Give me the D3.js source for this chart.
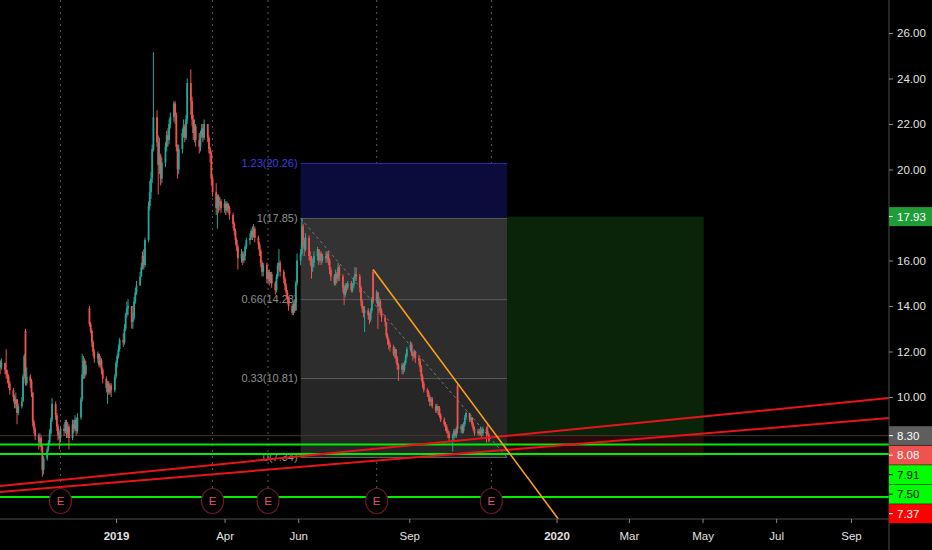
<!DOCTYPE html>
<html><head><meta charset="utf-8">
<script src="https://d3js.org/d3.v7.min.js"></script>
<style>
  body { margin: 0; background: #000; }
  svg text { font-family: "Liberation Sans", Arial, sans-serif; }
</style>
</head>
<body>
<div id="chart"></div>
<script>

// ---- data ----
var startDate = "2018-09-27";   // first candle, one candle per weekday after it

var closes = [
  11.3, 11.5, 11.2, 11.0, 10.9, 10.6, 10.3, 10.0, 9.7, 9.9,
  9.3, 9.6, 9.8, 10.9, 11.8, 10.6, 10.9, 10.7, 10.2, 8.9,
  8.6, 8.3, 8.0, 8.2, 7.8, 6.8, 7.3, 7.7, 8.0, 8.4,
  9.0, 9.7, 9.2, 8.7, 8.3, 8.2, 8.6, 8.5, 8.9, 8.4,
  8.7, 8.2, 8.8, 8.6, 9.0, 8.5, 9.1, 9.9, 11.0, 11.6,
  11.0, 11.4, 13.2, 12.9, 12.4, 12.0, 11.7, 11.9, 11.4, 11.6,
  11.2, 10.8, 10.4, 10.6, 10.2, 10.5, 10.3, 10.9, 11.5, 11.8,
  12.1, 12.5, 12.4, 13.0, 13.6, 13.9, 14.0, 13.3, 13.5, 14.2,
  14.6, 14.9, 15.3, 15.7, 16.2, 15.8, 16.9, 18.4, 19.0, 19.6,
  20.9, 22.3, 21.2, 20.2, 20.6, 19.6, 20.3, 21.0, 21.5, 21.3,
  22.0, 22.3, 22.9, 22.4, 21.0, 20.0, 20.9, 21.6, 21.9, 21.4,
  22.2, 23.8, 23.0, 22.2, 21.6, 21.9, 21.3, 21.0, 21.5, 21.8,
  21.4, 22.0, 21.4, 20.9, 20.7, 19.6, 19.0, 18.3, 18.8, 18.4,
  18.6, 18.3, 18.5, 18.2, 18.5, 18.3, 18.0, 17.6, 17.3, 16.9,
  16.6, 16.1, 16.3, 16.0, 16.2, 16.6, 16.9, 17.0, 17.3, 17.1,
  17.4, 17.0, 16.7, 16.4, 15.9, 15.5, 15.8, 15.2, 15.5, 15.1,
  15.4, 15.0, 14.7, 15.3, 15.8, 15.9, 15.5, 15.2, 14.9, 14.6,
  14.3, 14.0, 13.7, 14.1, 13.8, 15.0, 16.0, 16.3, 17.5, 16.9,
  16.5, 17.0, 16.2, 16.0, 15.7, 15.9, 16.2, 16.5, 16.0, 16.3,
  16.0, 16.2, 16.1, 16.3, 16.0, 15.6, 15.3, 15.0, 15.4, 15.2,
  15.7, 15.3, 14.8, 14.5, 14.9, 14.8, 15.0, 14.7, 14.9, 15.2,
  15.4, 15.3, 14.8, 14.2, 13.9, 13.7, 13.8, 13.6, 13.4, 13.8,
  14.3, 14.2, 14.6, 14.0, 14.2, 13.8, 13.5, 13.3, 12.7, 12.5,
  12.3, 12.2, 11.9, 12.1, 11.7, 11.4, 11.2, 11.4, 11.2, 11.5,
  11.8, 12.1, 12.3, 11.9, 11.8, 12.0, 11.7, 11.6, 11.3, 10.9,
  10.6, 10.3, 10.2, 10.0, 9.8, 9.9, 9.6, 9.4, 9.6, 9.5,
  9.2, 9.0, 8.8, 8.7, 8.5, 8.4, 8.2, 8.3, 8.5, 8.3,
  8.6, 8.6, 8.7, 8.5, 8.8, 9.1, 9.3, 9.0, 9.1, 8.8,
  8.6, 8.4, 8.5, 8.4, 8.5, 8.4, 8.6, 8.5, 8.35, 8.08
];

var highs = [
  11.6, 11.7, 11.5, 12.1, 11.2, 11.0, 10.7, 10.4, 10.1, 10.2,
  9.9, 9.7, 10.0, 11.0, 11.9, 13.0, 11.3, 11.0, 10.8, 10.2,
  9.0, 8.7, 8.4, 8.4, 8.3, 7.9, 7.4, 7.8, 8.1, 8.6,
  9.1, 9.95, 9.8, 9.3, 8.8, 8.5, 8.7, 8.8, 9.0, 9.0,
  8.9, 8.8, 9.0, 9.0, 9.2, 9.1, 9.3, 10.0, 11.9, 11.8,
  11.7, 11.6, 14.0, 13.3, 13.0, 12.5, 12.1, 12.0, 11.9, 11.8,
  11.7, 11.3, 10.9, 10.7, 10.7, 10.6, 10.6, 11.0, 11.6, 11.9,
  12.3, 12.6, 12.8, 13.2, 13.7, 14.2, 14.3, 14.0, 13.7, 14.4,
  14.8, 15.1, 15.5, 15.9, 16.4, 16.5, 17.0, 18.6, 19.5, 19.9,
  21.1, 25.15, 22.6, 21.5, 21.4, 20.7, 20.5, 21.2, 21.7, 21.8,
  22.2, 22.5, 23.0, 23.0, 22.5, 21.1, 21.1, 21.8, 22.2, 22.0,
  22.4, 24.0, 24.4, 23.2, 22.4, 22.2, 22.0, 21.6, 21.7, 22.0,
  22.0, 22.2, 22.0, 21.5, 21.0, 20.8, 19.7, 19.4, 18.9, 18.9,
  18.8, 18.7, 18.7, 18.6, 18.6, 18.5, 18.4, 18.1, 17.7, 17.4,
  17.0, 16.7, 16.5, 16.4, 16.4, 16.7, 17.0, 17.2, 17.4, 17.5,
  17.6, 17.5, 17.1, 16.8, 16.5, 16.0, 15.9, 15.9, 15.6, 15.6,
  15.5, 15.5, 15.1, 15.4, 15.9, 16.5, 16.0, 15.6, 15.3, 15.0,
  14.7, 14.4, 14.1, 14.2, 14.3, 15.1, 16.3, 16.5, 17.85, 17.6,
  17.0, 17.2, 17.1, 16.4, 16.2, 16.1, 16.4, 16.6, 16.5, 16.4,
  16.4, 16.3, 16.4, 16.4, 16.4, 16.1, 15.7, 15.4, 15.6, 15.5,
  15.9, 15.8, 15.4, 14.9, 15.0, 15.0, 15.1, 15.1, 15.0, 15.3,
  15.7, 15.7, 15.4, 14.9, 14.3, 14.0, 14.0, 13.9, 13.7, 13.9,
  14.4, 15.6, 14.7, 14.6, 14.4, 14.3, 13.9, 13.6, 13.3, 12.8,
  12.6, 12.4, 12.3, 12.2, 12.1, 11.8, 11.5, 11.5, 11.5, 11.6,
  11.9, 12.2, 12.45, 12.4, 12.0, 12.1, 12.0, 11.8, 11.7, 11.4,
  11.0, 10.7, 10.4, 10.3, 10.1, 10.0, 10.0, 9.7, 9.7, 9.6,
  9.6, 9.3, 9.1, 8.9, 8.8, 8.6, 8.5, 8.4, 8.6, 8.6,
  8.7, 10.6, 8.8, 8.8, 8.9, 9.2, 9.35, 9.3, 9.2, 9.1,
  8.9, 8.7, 8.6, 8.6, 8.7, 8.6, 8.7, 8.7, 8.8, 8.4
];

var lows = [
  11.0, 11.2, 11.0, 10.8, 10.6, 10.4, 10.1, 9.8, 9.5, 9.5,
  8.8, 9.2, 9.5, 9.8, 10.8, 10.5, 10.5, 10.4, 10.0, 8.7,
  8.4, 8.1, 7.7, 7.8, 7.6, 6.5, 6.6, 7.2, 7.6, 7.9,
  8.3, 8.9, 9.0, 8.5, 8.1, 7.7, 8.0, 8.3, 8.4, 8.2,
  8.2, 7.7, 8.1, 8.4, 8.5, 8.3, 8.4, 9.0, 9.8, 10.8,
  10.8, 10.9, 13.1, 12.8, 12.2, 11.8, 11.5, 11.5, 11.3, 11.3,
  11.0, 10.6, 10.2, 9.7, 10.1, 10.1, 10.0, 10.2, 10.8, 11.3,
  11.7, 12.0, 12.2, 12.3, 12.9, 13.5, 13.6, 13.0, 13.0, 13.4,
  14.1, 14.5, 14.9, 15.3, 15.6, 15.6, 15.7, 16.8, 18.2, 18.7,
  19.4, 20.8, 21.0, 18.9, 19.8, 19.3, 19.4, 20.1, 20.8, 21.0,
  21.1, 21.8, 22.1, 22.0, 20.8, 19.6, 19.8, 20.7, 21.4, 21.2,
  21.3, 22.0, 22.4, 21.9, 21.3, 21.2, 21.0, 20.7, 20.8, 21.4,
  21.2, 21.3, 21.2, 20.7, 20.3, 19.3, 18.8, 18.0, 17.4, 18.1,
  18.2, 18.1, 18.1, 18.0, 18.1, 18.1, 17.8, 17.4, 17.1, 16.7,
  16.4, 15.6, 15.9, 15.8, 15.9, 16.0, 16.5, 16.7, 16.9, 16.9,
  17.0, 16.8, 16.5, 16.2, 15.7, 15.3, 15.3, 15.0, 15.0, 14.9,
  15.0, 14.8, 14.5, 14.6, 15.2, 15.6, 15.3, 15.0, 14.7, 14.4,
  14.1, 13.8, 13.6, 13.6, 13.7, 13.8, 14.9, 15.8, 16.2, 16.6,
  16.2, 16.4, 16.0, 15.8, 15.2, 15.5, 15.7, 16.0, 15.8, 15.9,
  15.8, 15.9, 15.9, 15.9, 15.8, 15.4, 15.1, 14.9, 14.9, 15.0,
  15.1, 15.1, 14.6, 14.05, 14.4, 14.6, 14.7, 14.6, 14.6, 14.8,
  15.1, 15.1, 14.6, 14.0, 13.7, 13.5, 12.85, 13.4, 13.2, 13.3,
  13.7, 14.1, 14.1, 13.0, 13.7, 13.6, 13.3, 13.1, 12.6, 12.3,
  12.1, 12.0, 11.8, 11.7, 11.5, 11.2, 10.7, 11.0, 11.0, 11.1,
  11.4, 11.7, 12.0, 11.8, 11.6, 11.7, 11.5, 11.4, 11.1, 10.7,
  10.4, 10.2, 10.0, 9.8, 9.6, 9.6, 9.5, 9.3, 9.3, 9.2,
  9.1, 8.9, 8.7, 8.5, 8.4, 8.2, 8.0, 7.6, 8.1, 8.2,
  8.2, 8.4, 8.4, 8.4, 8.4, 8.7, 9.0, 8.9, 8.9, 8.7,
  8.5, 8.3, 8.3, 8.3, 8.3, 8.2, 8.3, 8.0, 8.3, 8.0
];

// candles whose open is not the previous close: [index, open]
var gapOpens = [[0, 11.6], [15, 12.9], [52, 13.9], [221, 15.5], [271, 10.5]];

// 18.00 and 8.00 sit under the price labels, so they are not printed
var priceTicks = [26, 24, 22, 20, 16, 14, 12, 10];
var timeTicks = ["2019-01-01", "2019-04-01", "2019-06-01", "2019-09-01", "2020-01-01",
                 "2020-03-01", "2020-05-01", "2020-07-01", "2020-09-01"];
var timeLabels = ["2019", "Apr", "Jun", "Sep", "2020", "Mar", "May", "Jul", "Sep"];

var fibRatios = [1.23, 1, 0.66, 0.33, 0];
var fibPrices = [20.26, 17.85, 14.28, 10.81, 7.34];
var fibDates = ["2019-06-03", "2019-11-21"];

var posDates = ["2019-11-21", "2020-05-02"];
var posTarget = 17.93, posEntry = 8.30, posStop = 7.37;

var greenLevels = [7.91, 7.50, 5.60];
var redLines = [
  [["2018-09-27", 6.09], ["2020-10-02", 9.95]],
  [["2018-09-27", 5.83], ["2020-10-02", 9.07]]
];
var orangeLine = [["2019-08-02", 15.6], ["2019-10-11", 10.6]];

var earnings = ["2018-11-16", "2019-03-22", "2019-05-07", "2019-08-05", "2019-11-08"];

var markPrices = [17.93, 8.30, 8.08, 7.91, 7.50, 7.37];

// ---- layout ----
var W = 932, H = 550, plotR = 889, plotB = 519;
var markFill = ["#1f9d36", "#5e5e5e", "#ef5350", "#00ff00", "#00ff00", "#ff0000"];
var markText = ["#ffffff", "#ffffff", "#ffffff", "#000000", "#000000", "#ffffff"];

var parseDate = d3.timeParse("%Y-%m-%d");

var x = d3.scaleTime()
    .domain([parseDate("2019-01-01"), parseDate("2020-09-01")])
    .range([116, 851]);
var y = d3.scaleLinear()
    .domain([10, 26])
    .range([397, 33]);

// one candle per weekday
var candleDates = [];
var day = parseDate(startDate);
for (var i = 0; i < closes.length; i++) {
    candleDates.push(day);
    day = d3.timeDay.offset(day, 1);
    while (day.getDay() === 0 || day.getDay() === 6) day = d3.timeDay.offset(day, 1);
}
var candles = closes.map(function(c, i) {
    var o = i > 0 ? closes[i - 1] : c;
    gapOpens.forEach(function(g) { if (g[0] === i) o = g[1]; });
    return {date: candleDates[i], open: o, close: c,
            high: Math.max(highs[i], o, c), low: Math.min(lows[i], o, c)};
});

var svg = d3.select("#chart").append("svg")
    .attr("width", W)
    .attr("height", H);
svg.append("rect").attr("width", W).attr("height", H).attr("fill", "#000");

svg.append("clipPath").attr("id", "plot")
  .append("rect").attr("width", plotR).attr("height", plotB);

var plot = svg.append("g").attr("clip-path", "url(#plot)");

// earnings guide lines
plot.selectAll(".eline")
    .data(earnings).enter().append("line")
    .attr("x1", function(d) { return x(parseDate(d)); })
    .attr("x2", function(d) { return x(parseDate(d)); })
    .attr("y1", 0).attr("y2", 488)
    .attr("stroke", "#5a5a5a")
    .attr("stroke-dasharray", "2,4");

// fib retracement
var fx0 = x(parseDate(fibDates[0])), fx1 = x(parseDate(fibDates[1]));
var bandFill = ["#0b0b3c", "#333333", "#2d2d2d", "#262626"];
plot.selectAll(".fibband")
    .data(d3.range(fibPrices.length - 1)).enter().append("rect")
    .attr("x", fx0).attr("width", fx1 - fx0)
    .attr("y", function(k) { return y(fibPrices[k]); })
    .attr("height", function(k) { return y(fibPrices[k + 1]) - y(fibPrices[k]); })
    .attr("fill", function(k) { return bandFill[k]; });
plot.selectAll(".fibline")
    .data(fibPrices).enter().append("line")
    .attr("x1", fx0).attr("x2", fx1)
    .attr("y1", function(d) { return y(d); })
    .attr("y2", function(d) { return y(d); })
    .attr("stroke", function(d, i) { return i === 0 ? "#2c2caa" : "#5c5c5c"; });
plot.append("line")
    .attr("x1", fx0).attr("y1", y(fibPrices[1]))
    .attr("x2", fx1).attr("y2", y(fibPrices[4]))
    .attr("stroke", "#777").attr("stroke-dasharray", "3,3");
plot.selectAll(".fiblabel")
    .data(fibPrices).enter().append("text")
    .attr("x", fx0 - 3)
    .attr("y", function(d) { return y(d); })
    .attr("dy", "0.35em")
    .attr("text-anchor", "end")
    .attr("font-size", 11)
    .attr("fill", function(d, i) { return i === 0 ? "#3d3de6" : "#8e8e8e"; })
    .text(function(d, i) { return fibRatios[i] + "(" + d.toFixed(2) + ")"; });

// long position box
var px0 = x(parseDate(posDates[0])), px1 = x(parseDate(posDates[1]));
plot.append("rect")
    .attr("x", px0).attr("width", px1 - px0)
    .attr("y", y(posTarget)).attr("height", y(posEntry) - y(posTarget))
    .attr("fill", "#0a240a");
plot.append("rect")
    .attr("x", px0).attr("width", px1 - px0)
    .attr("y", y(posEntry)).attr("height", y(posStop) - y(posEntry))
    .attr("fill", "#260a0a");

// entry line
plot.append("line")
    .attr("x1", 0).attr("x2", plotR)
    .attr("y1", y(posEntry)).attr("y2", y(posEntry))
    .attr("stroke", "#4a3530");

// candles
var up = "#26a69a", down = "#ef5350";
var cg = plot.selectAll(".candle")
    .data(candles).enter().append("g");
cg.append("line")
    .attr("x1", function(d) { return x(d.date); })
    .attr("x2", function(d) { return x(d.date); })
    .attr("y1", function(d) { return y(d.high); })
    .attr("y2", function(d) { return y(d.low); })
    .attr("stroke", function(d) { return d.close >= d.open ? up : down; })
    .attr("stroke-width", 1);
cg.append("rect")
    .attr("x", function(d) { return x(d.date) - 0.9; })
    .attr("width", 1.8)
    .attr("y", function(d) { return y(Math.max(d.open, d.close)); })
    .attr("height", function(d) { return Math.max(1, Math.abs(y(d.open) - y(d.close))); })
    .attr("fill", function(d) { return d.close >= d.open ? up : down; });

// extended line through two points
function extended(pts, xa, xb) {
    var x1 = x(parseDate(pts[0][0])), y1 = y(pts[0][1]);
    var x2 = x(parseDate(pts[1][0])), y2 = y(pts[1][1]);
    var m = (y2 - y1) / (x2 - x1);
    return [xa, y1 + m * (xa - x1), xb, y1 + m * (xb - x1)];
}

plot.selectAll(".green")
    .data(greenLevels).enter().append("line")
    .attr("x1", 0).attr("x2", plotR)
    .attr("y1", function(d) { return y(d); })
    .attr("y2", function(d) { return y(d); })
    .attr("stroke", "#00ee00").attr("stroke-width", 2);

plot.selectAll(".red")
    .data(redLines).enter().append("line")
    .each(function(d) {
        var s = extended(d, 0, plotR);
        d3.select(this).attr("x1", s[0]).attr("y1", s[1]).attr("x2", s[2]).attr("y2", s[3]);
    })
    .attr("stroke", "#e8141a").attr("stroke-width", 2);

var ox0 = x(parseDate(orangeLine[0][0]));
var os = extended(orangeLine, ox0, ox0 + 260);
plot.append("line")
    .attr("x1", os[0]).attr("y1", os[1]).attr("x2", os[2]).attr("y2", os[3])
    .attr("stroke", "#ff9f1a").attr("stroke-width", 1.6);

// earnings markers
var eg = svg.selectAll(".emark")
    .data(earnings).enter().append("g")
    .attr("transform", function(d) { return "translate(" + x(parseDate(d)) + ",501)"; });
eg.append("ellipse")
    .attr("rx", 11).attr("ry", 12.5)
    .attr("fill", "#000").attr("stroke", "#6e1a28").attr("stroke-width", 1.2);
eg.append("text")
    .attr("dy", "0.36em")
    .attr("text-anchor", "middle")
    .attr("font-size", 11.5)
    .attr("fill", "#e0506a")
    .text("E");

// axes frame
svg.append("line").attr("x1", plotR).attr("x2", plotR).attr("y1", 0).attr("y2", H)
    .attr("stroke", "#4d4d4d");
svg.append("line").attr("x1", 0).attr("x2", plotR).attr("y1", plotB).attr("y2", plotB)
    .attr("stroke", "#4d4d4d");

var yAxis = svg.append("g")
    .attr("transform", "translate(" + plotR + ",0)")
    .call(d3.axisRight(y).tickValues(priceTicks).tickSize(4).tickPadding(4)
          .tickFormat(d3.format(".2f")));
var xAxis = svg.append("g")
    .attr("transform", "translate(0," + plotB + ")")
    .call(d3.axisBottom(x).tickValues(timeTicks.map(parseDate)).tickSize(4).tickPadding(9)
          .tickFormat(function(d, i) { return timeLabels[i]; }));
[yAxis, xAxis].forEach(function(a) {
    a.select(".domain").remove();
    a.selectAll(".tick line").attr("stroke", "#888");
    a.selectAll(".tick text")
        .attr("fill", "#e2e2e2")
        .attr("font-size", 11.5)
        .style("font-family", "'Liberation Sans', Arial, sans-serif");
});
// year labels are bold
xAxis.selectAll(".tick text")
    .attr("font-weight", function(d) { return d.getMonth() === 0 ? "bold" : null; });

// price labels on the axis, pushed down when they would overlap
var order = d3.range(markPrices.length).sort(function(a, b) { return markPrices[b] - markPrices[a]; });
var lastY = -100, labelY = [];
order.forEach(function(k) {
    var ly = Math.max(y(markPrices[k]), lastY + 19.5);
    labelY[k] = ly;
    lastY = ly;
});
var lg = svg.selectAll(".mark")
    .data(markPrices).enter().append("g")
    .attr("transform", function(d, i) { return "translate(" + plotR + "," + labelY[i] + ")"; });
lg.append("rect")
    .attr("x", 0).attr("y", -9.5).attr("width", W - plotR).attr("height", 19)
    .attr("fill", function(d, i) { return markFill[i]; });
lg.append("line")
    .attr("x1", 0).attr("x2", 4)
    .attr("stroke", function(d, i) { return markText[i]; });
lg.append("text")
    .attr("x", 8).attr("dy", "0.36em")
    .attr("font-size", 11.5)
    .attr("fill", function(d, i) { return markText[i]; })
    .text(function(d) { return d.toFixed(2); });

</script>
</body></html>
